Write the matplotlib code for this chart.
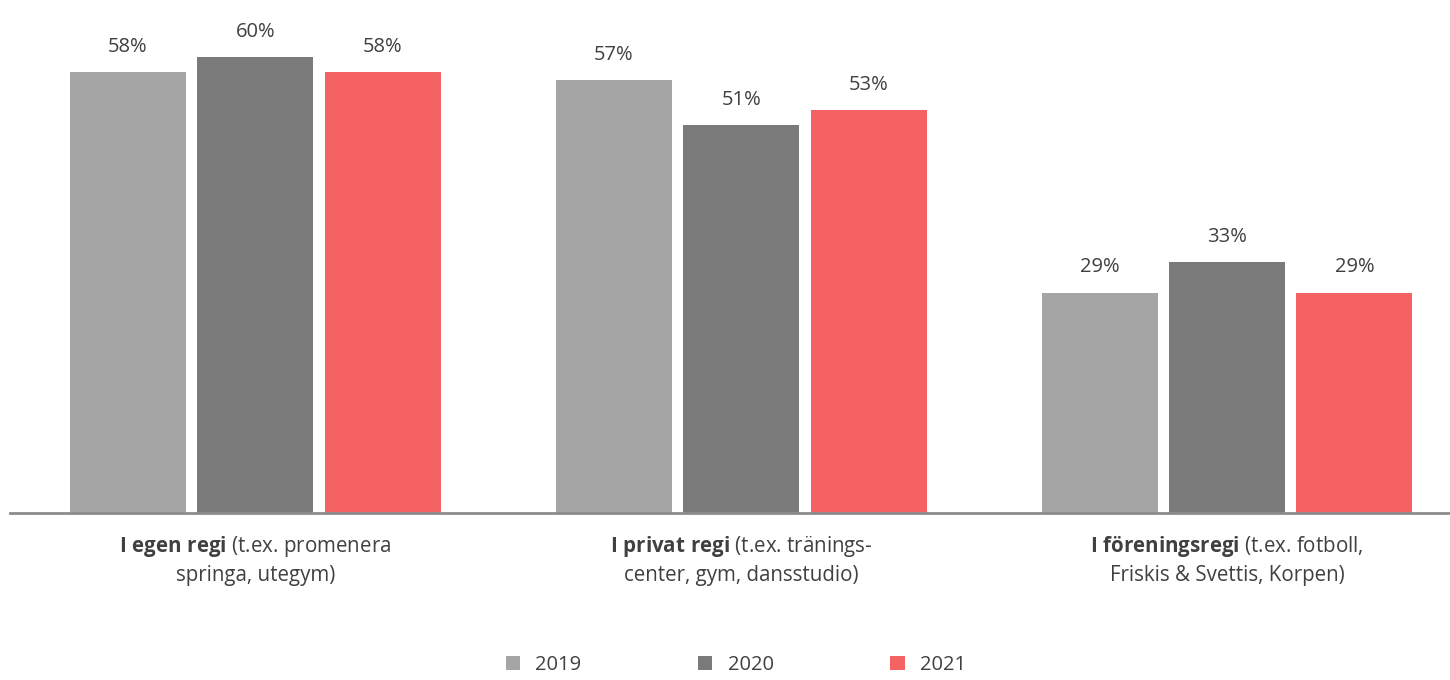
import matplotlib
matplotlib.use("Agg")
import matplotlib.pyplot as plt
from matplotlib.patches import Patch
import numpy as np

categories = [
    r"$\bf{I\ egen\ regi}$ (t.ex. promenera" + "\nspringa, utegym)",
    r"$\bf{I\ privat\ regi}$ (t.ex. tränings-" + "\ncenter, gym, dansstudio)",
    r"$\bf{I\ föreningsregi}$ (t.ex. fotboll," + "\nFriskis & Svettis, Korpen)",
]
years = ["2019", "2020", "2021"]
values = {
    "2019": [58, 57, 29],
    "2020": [60, 51, 33],
    "2021": [58, 53, 29],
}
colors = {"2019": "#A5A5A5", "2020": "#7A7A7A", "2021": "#F46264"}

plt.rcParams["font.family"] = ["Open Sans", "DejaVu Sans"]
plt.rcParams["mathtext.fontset"] = "custom"
plt.rcParams["mathtext.bf"] = "Open Sans:bold"
plt.rcParams["mathtext.rm"] = "Open Sans"
plt.rcParams["mathtext.it"] = "Open Sans:italic"

txt = "#404040"
fig = plt.figure(figsize=(14.5, 6.8), dpi=100)
ymax = 67
ppu = 7.6
ax = fig.add_axes([10 / 1450, 167 / 680, 1440 / 1450, ymax * ppu / 680])

x = np.arange(len(categories))
w = 0.2387
off = 0.2623
for i, y in enumerate(years):
    pos = x + (i - 1) * off
    ax.bar(pos, values[y], width=w, color=colors[y], label=y, zorder=2)
    for p, v in zip(pos, values[y]):
        ax.annotate(f"{v}%", (p, v), xytext=(0, 11), textcoords="offset points",
                    ha="center", va="bottom", fontsize=14.5, color=txt)

ax.set_xlim(-0.505, 2.459)
ax.set_ylim(0, ymax)
for s in ["top", "right", "left"]:
    ax.spines[s].set_visible(False)
ax.spines["bottom"].set_color("#8C8C8C")
ax.spines["bottom"].set_linewidth(2)
ax.set_yticks([])
ax.set_xticks(x)
ax.set_xticklabels(categories, fontsize=14.8, color=txt, linespacing=1.4)
ax.tick_params(axis="x", length=0, pad=15)

handles = [Patch(facecolor=colors[y], edgecolor="none", label=y) for y in years]
fig.legend(handles=handles, loc="center", bbox_to_anchor=(736 / 1450, 1 - 665 / 680),
           ncol=3, frameon=False, fontsize=14.5, handlelength=0.7, handleheight=0.7,
           columnspacing=5.8, handletextpad=0.75, labelcolor=txt)

fig.savefig("out.png", dpi=100)
